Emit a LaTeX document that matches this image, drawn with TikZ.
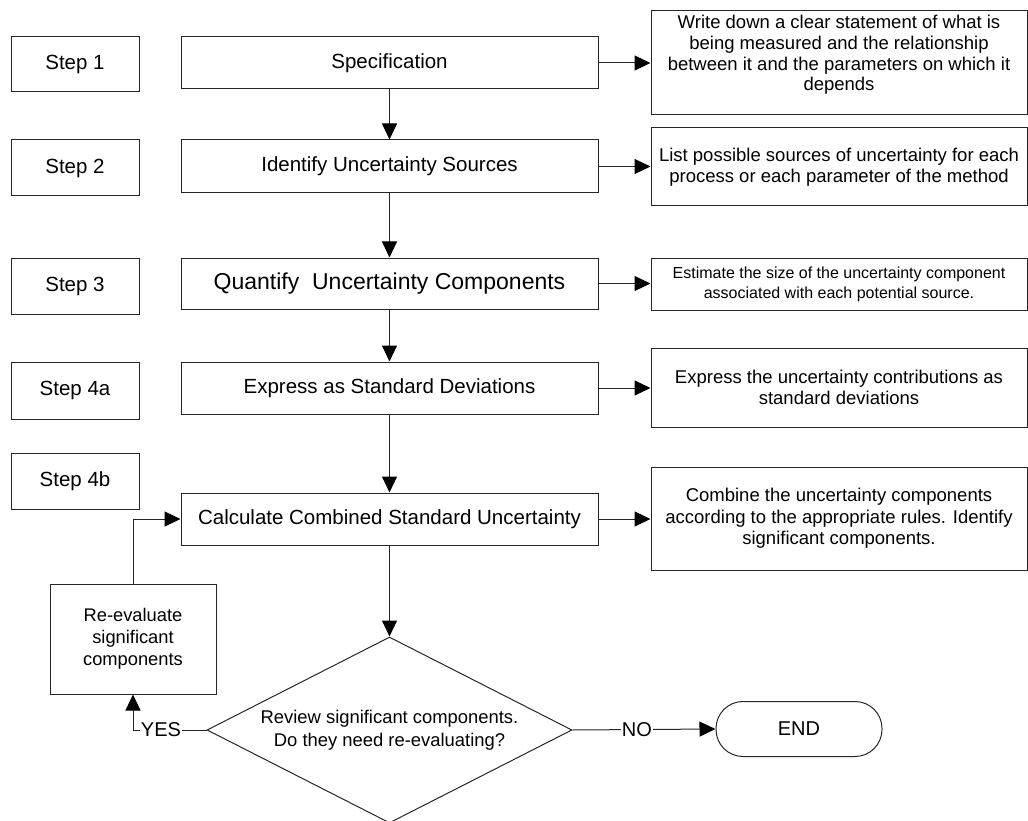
\documentclass[tikz,border=0pt]{standalone}
\usepackage{fontspec}
\setmainfont{Liberation Sans}
\usetikzlibrary{arrows.meta,shapes.geometric}
\begin{document}
\begin{tikzpicture}[x=1pt,y=-1pt,
  line width=1pt,
  box/.style={draw=black!85, rectangle, inner sep=0pt, align=center},
  stepbox/.style={box, minimum width=128pt, font=\fontsize{20.5}{24}\selectfont},
  mainbox/.style={box, minimum width=417pt, font=\fontsize{20.5}{24}\selectfont},
  rbox/.style={box, minimum width=376pt, font=\fontsize{18.5}{21.3}\selectfont},
  rtext/.style={inner sep=0pt, align=center, font=\fontsize{18.5}{20.7}\selectfont},
  arr/.style={draw=black!85, -{Triangle[length=16pt,width=15pt,color=black]}},
  lbl/.style={fill=white, inner sep=1pt, font=\fontsize{20}{24}\selectfont}
]
\useasboundingbox (0,0) rectangle (1028,821);

% step labels
\node[stepbox, minimum height=55pt] (s1) at (75,64.5) {Step 1};
\node[stepbox, minimum height=56pt] (s2) at (75,168) {Step 2};
\node[stepbox, minimum height=56pt] (s3) at (75,286) {Step 3};
\node[stepbox, minimum height=57pt] (s4a) at (75,390.5) {Step 4a};
\node[stepbox, minimum height=56pt] (s4b) at (75,481) {Step 4b};

% main column
\node[mainbox, minimum height=52pt] (m1) at (389.5,63) {Specification};
\node[mainbox, minimum height=53pt] (m2) at (389.5,166.5) {Identify Uncertainty Sources};
\node[mainbox, minimum height=51pt, font=\fontsize{23}{27}\selectfont] (m3) at (389.5,283.5) {Quantify\ \ Uncertainty Components};
\node[mainbox, minimum height=52pt] (m4) at (389.5,388) {Express as Standard Deviations};
\node[mainbox, minimum height=52pt] (m5) at (389.5,519) {Calculate Combined Standard Uncertainty};

% right column
\node[rbox, minimum height=104pt] (r1) at (839,63) {};
\node[rtext] (r1t) at (839,55) {Write down a clear statement of what is\\being measured and the relationship\\between it and the parameters on which it\\depends};
\node[rbox, minimum height=78pt] (r2) at (839,167) {List possible sources of uncertainty for each\\process or each parameter of the method};
\node[rbox, minimum height=52pt, font=\fontsize{16}{20}\selectfont] (r3) at (839,284) {Estimate the size of the uncertainty component\\associated with each potential source.};
\node[rbox, minimum height=79pt] (r4) at (839,387.5) {Express the uncertainty contributions as\\standard deviations};
\node[rbox, minimum height=103pt] (r5) at (839,518.5) {Combine the uncertainty components\\according to the appropriate rules. Identify\\significant components.};

% loop and decision
\node[box, minimum width=166pt, minimum height=110pt, font=\fontsize{18.3}{22}\selectfont] (re) at (133,639) {Re-evaluate\\significant\\components};
\node[draw=black!85, shape=diamond, aspect=1.96, minimum width=365pt, minimum height=186pt, inner sep=0pt, align=center, font=\fontsize{18.4}{22.7}\selectfont] (dia) at (389.5,730) {Review significant components.\\Do they need re-evaluating?};
\node[draw=black!85, rectangle, rounded corners=27pt, minimum width=166pt, minimum height=55pt, font=\fontsize{20}{24}\selectfont] (end) at (799,729) {END};

% connectors
\draw[arr] (m1.south) -- (m2.north);
\draw[arr] (m2.south) -- (m3.north);
\draw[arr] (m3.south) -- (m4.north);
\draw[arr] (m4.south) -- (m5.north);
\draw[arr] (m5.south) -- (dia.north);
\draw[arr] (m1.east) -- (m1.east -| r1.west);
\draw[arr] (m2.east) -- (m2.east -| r2.west);
\draw[arr] (m3.east) -- (m3.east -| r3.west);
\draw[arr] (m4.east) -- (m4.east -| r4.west);
\draw[arr] (m5.east) -- (m5.east -| r5.west);
\draw[arr] (re.north) |- (m5.west);
\draw[arr] (dia.west) -| node[lbl, pos=0.31] {YES} (re.south);
\draw[arr] (dia.east) -- node[lbl, pos=0.45] {NO} (end.west);
\end{tikzpicture}
\end{document}
